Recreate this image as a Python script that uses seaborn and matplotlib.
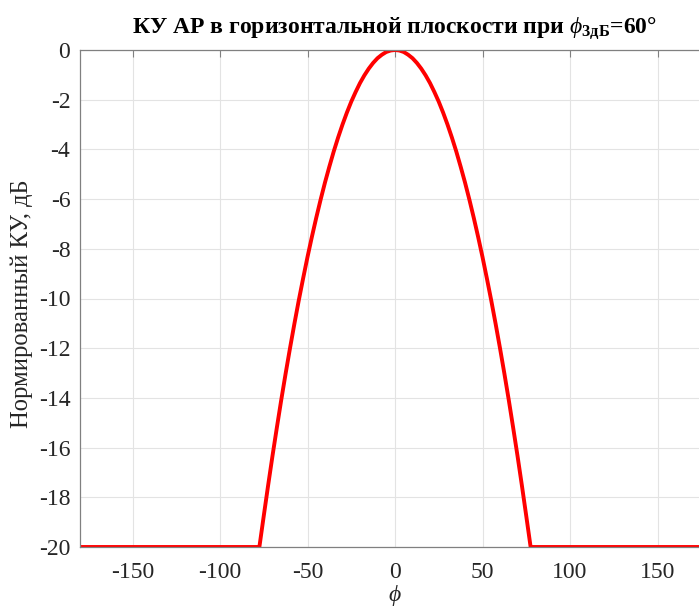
import matplotlib
matplotlib.use("Agg")
import matplotlib.pyplot as plt
import seaborn as sns
import pandas as pd

# angle (deg) and normalized gain (dB)
phi_deg = [-180, -77.5, -75, -72.5, -70, -67.5, -65, -62.5, -60, -57.5, -55, -52.5, -50, -47.5, -45,
           -42.5, -40, -37.5, -35, -32.5, -30, -27.5, -25, -22.5, -20, -17.5, -15, -12.5, -10, -7.5, -5, -2.5,
           0, 2.5, 5, 7.5, 10, 12.5, 15, 17.5, 20, 22.5, 25, 27.5, 30, 32.5, 35, 37.5, 40, 42.5,
           45, 47.5, 50, 52.5, 55, 57.5, 60, 62.5, 65, 67.5, 70, 72.5, 75, 77.5, 180]
gain_db = [-20.0, -20.0, -18.75, -17.52, -16.33, -15.19, -14.08, -13.02, -12.0, -11.02, -10.08, -9.19, -8.33, -7.52, -6.75,
           -6.02, -5.33, -4.69, -4.08, -3.52, -3.0, -2.52, -2.08, -1.69, -1.33, -1.02, -0.75, -0.52, -0.33, -0.19, -0.08, -0.02,
           0.0, -0.02, -0.08, -0.19, -0.33, -0.52, -0.75, -1.02, -1.33, -1.69, -2.08, -2.52, -3.0, -3.52, -4.08, -4.69, -5.33, -6.02,
           -6.75, -7.52, -8.33, -9.19, -10.08, -11.02, -12.0, -13.02, -14.08, -15.19, -16.33, -17.52, -18.75, -20.0, -20.0]
x_ticks = [-150, -100, -50, 0, 50, 100, 150]
y_ticks = [0, -2, -4, -6, -8, -10, -12, -14, -16, -18, -20]

sns.set_style("whitegrid")
plt.rcParams['font.family'] = ['Liberation Serif', 'DejaVu Serif']
plt.rcParams['mathtext.fontset'] = 'custom'
plt.rcParams['mathtext.rm'] = 'Liberation Serif'
plt.rcParams['mathtext.it'] = 'Liberation Serif:italic'
plt.rcParams['mathtext.bf'] = 'Liberation Serif:bold'

df = pd.DataFrame({"phi": phi_deg, "gain": gain_db})

fig = plt.figure(figsize=(6.99, 6.06), dpi=100)
ax = fig.add_axes([80/699, 59/606, 630/699, 497/606])
sns.lineplot(data=df, x="phi", y="gain", ax=ax, color="#ff0000", linewidth=2.8, sort=False)

ax.set_xlim(-180, 180)
ax.set_ylim(-20, 0)
ax.set_xticks(x_ticks)
ax.set_yticks(y_ticks)
ax.set_xticklabels([str(v) for v in x_ticks])
ax.set_yticklabels([str(v) for v in y_ticks])
ax.tick_params(axis='both', direction='in', length=5, width=0.8, color='#808080',
               labelsize=17, labelcolor='#262626', top=True, right=True)
ax.tick_params(axis='x', pad=11)
ax.tick_params(axis='y', pad=7)
ax.grid(True, color='#e3e3e3', linewidth=0.8)
for s in ax.spines.values():
    s.set_color('#808080')
    s.set_linewidth(0.9)
ax.set_facecolor('white')

ax.set_xlabel('ϕ', fontsize=17, color='#262626', va='center', style='italic',
              family=['Liberation Serif', 'DejaVu Serif'])
ax.xaxis.set_label_coords(0.5, -(596 - 547) / 497)
ax.set_ylabel('Нормированный КУ, дБ', fontsize=17.7, color='#262626', va='center')
ax.yaxis.set_label_coords((22 - 80) / 630, (547 - 304) / 497)
fig.text(394/699, 1 - 34/606, r'КУ АР в горизонтальной плоскости при $\phi_{\mathbf{3дБ}}$=60°',
         ha='center', va='baseline', fontsize=17, fontweight='bold', color='black')

fig.savefig("out.png", dpi=100)
